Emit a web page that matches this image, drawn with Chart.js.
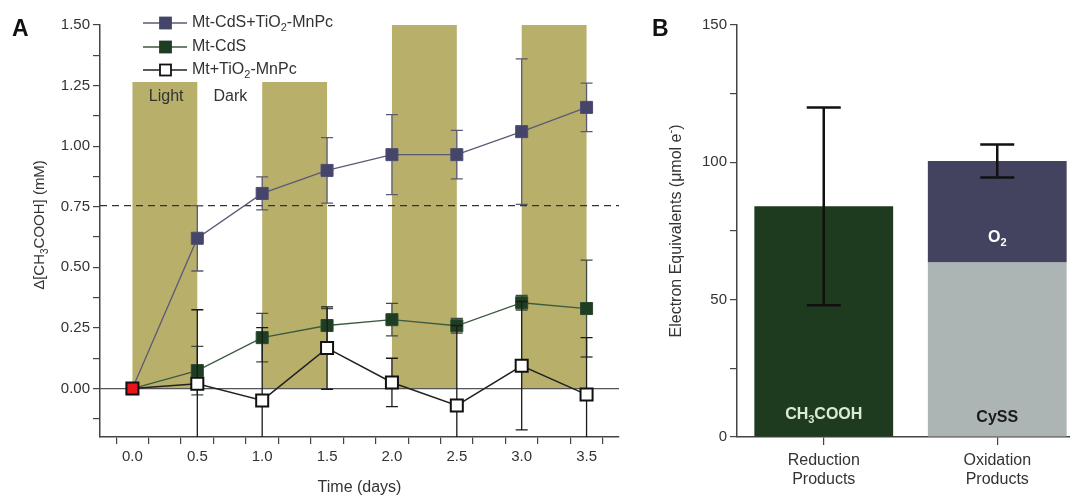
<!DOCTYPE html>
<html>
<head>
<meta charset="utf-8">
<script src="https://cdn.jsdelivr.net/npm/chart.js@4.4.0/dist/chart.umd.min.js"></script>
<style>
  html, body { margin: 0; padding: 0; background: #fff; overflow: hidden; width: 1070px; height: 497px; }
  #wrapA { position: absolute; left: 0; top: 0; width: 640px; height: 497px; }
  #wrapB { position: absolute; left: 640px; top: 0; width: 444px; height: 497px; }
  .panel { position: absolute; font: bold 23px "Liberation Sans", Arial, sans-serif; line-height: 1; color: #111; }
</style>
</head>
<body>
<div id="wrapA"><canvas id="chartA"></canvas></div>
<div id="wrapB"><canvas id="chartB"></canvas></div>
<div class="panel" style="left:12px; top:17px;">A</div>
<div class="panel" style="left:652px; top:17px;">B</div>
<script>
// ---- panel A data (time course) ----
const timeDays = [0, 0.5, 1.0, 1.5, 2.0, 2.5, 3.0, 3.5];
const cdsTio2 = [0, 0.62, 0.805, 0.90, 0.965, 0.965, 1.06, 1.16];
const cdsTio2Err = [0, 0.135, 0.068, 0.135, 0.165, 0.10, 0.30, 0.10];
const cdsOnly = [0, 0.074, 0.21, 0.26, 0.284, 0.259, 0.354, 0.33];
const cdsOnlyErr = [0, 0.10, 0.10, 0.07, 0.067, 0.03, 0.03, 0.20];
const tio2Only = [0, 0.02, -0.049, 0.167, 0.025, -0.07, 0.094, -0.025];
const tio2OnlyErr = [0, 0.305, 0.30, 0.17, 0.10, 0.33, 0.265, 0.235];

const lightCenters = [0.25, 1.25, 2.25, 3.25];
const lightTops = [1.265, 1.265, 1.5, 1.5];
const dashLevel = 0.755;
const zeroLevel = 0;

const xTicksA = [-0.25, 0, 0.25, 0.5, 0.75, 1, 1.25, 1.5, 1.75, 2, 2.25, 2.5, 2.75, 3, 3.25, 3.5, 3.75];
const yTicksA = [-0.125, 0, 0.125, 0.25, 0.375, 0.5, 0.625, 0.75, 0.875, 1, 1.125, 1.25, 1.375, 1.5];

// ---- panel B data (electron balance) ----
const categoriesB = [["Reduction", "Products"], ["Oxidation", "Products"]];
const acetateEq = [84, null];
const cyssEq = [null, 63.5];
const o2Eq = [null, 37];
const totalErrB = [36, 6];
const yTicksB = [0, 25, 50, 75, 100, 125, 150];

const FONT = '"Liberation Sans", Arial, sans-serif';
const TXT = '#333';

// draw text with sub/superscripts: parts = [[text, 'n'|'sub'|'sup'], ...]
function drawRich(ctx, parts, x, y, size, opts = {}) {
  const w = opts.bold ? 'bold ' : '';
  const fontFor = k => w + (k === 'n' ? size : Math.round(size * 0.68)) + 'px ' + FONT;
  let total = 0;
  parts.forEach(([t, k]) => { ctx.font = fontFor(k); total += ctx.measureText(t).width; });
  ctx.save();
  ctx.translate(x, y);
  if (opts.rotate) ctx.rotate(opts.rotate);
  let cx = opts.align === 'left' ? 0 : -total / 2;
  ctx.fillStyle = opts.color || TXT;
  ctx.textBaseline = 'middle';
  ctx.textAlign = 'left';
  parts.forEach(([t, k]) => {
    ctx.font = fontFor(k);
    const dy = k === 'sub' ? size * 0.34 : k === 'sup' ? -size * 0.36 : 0;
    ctx.fillText(t, cx, dy);
    cx += ctx.measureText(t).width;
  });
  ctx.restore();
}

const pts = ys => timeDays.map((t, i) => ({ x: t, y: ys[i] }));

// error bars drawn right before each series so markers sit on top
const errorBarsA = {
  id: 'errorBarsA',
  beforeDatasetDraw(chart, args) {
    const ds = chart.data.datasets[args.index];
    if (!ds.errors) return;
    const { ctx, chartArea: a } = chart;
    const xs = chart.scales.x, ys = chart.scales.y;
    ctx.save();
    ctx.beginPath();
    ctx.rect(a.left, a.top - 2, a.right - a.left, a.bottom - a.top + 2);
    ctx.clip();
    ctx.strokeStyle = ds.errorColor;
    ctx.lineWidth = 1.3;
    ds.data.forEach((p, i) => {
      const e = ds.errors[i];
      if (!e) return;
      const px = xs.getPixelForValue(p.x);
      const top = ys.getPixelForValue(p.y + e);
      const bot = ys.getPixelForValue(p.y - e);
      ctx.beginPath();
      ctx.moveTo(px, top); ctx.lineTo(px, bot);
      ctx.moveTo(px - 6, top); ctx.lineTo(px + 6, top);
      ctx.moveTo(px - 6, bot); ctx.lineTo(px + 6, bot);
      ctx.stroke();
    });
    ctx.restore();
  }
};

// legend, light/dark labels, axis titles
const decorA = {
  id: 'decorA',
  afterDraw(chart) {
    const { ctx, chartArea: a } = chart;
    const xs = chart.scales.x, ys = chart.scales.y;
    const items = [
      { parts: [['Mt-CdS+TiO', 'n'], ['2', 'sub'], ['-MnPc', 'n']], line: '#5a5a78', fill: '#45456b', stroke: '#45456b', y: 23 },
      { parts: [['Mt-CdS', 'n']], line: '#3c5a40', fill: '#1e3d22', stroke: '#1e3d22', y: 47 },
      { parts: [['Mt+TiO', 'n'], ['2', 'sub'], ['-MnPc', 'n']], line: '#222', fill: '#fff', stroke: '#111', y: 70 }
    ];
    items.forEach(it => {
      ctx.save();
      ctx.strokeStyle = it.line;
      ctx.lineWidth = 1.3;
      ctx.beginPath(); ctx.moveTo(143, it.y); ctx.lineTo(187, it.y); ctx.stroke();
      ctx.fillStyle = it.fill;
      ctx.fillRect(160, it.y - 5.5, 11, 11);
      ctx.strokeStyle = it.stroke;
      ctx.lineWidth = 1.8;
      ctx.strokeRect(160, it.y - 5.5, 11, 11);
      ctx.restore();
      drawRich(ctx, it.parts, 192, it.y, 16, { align: 'left' });
    });
    drawRich(ctx, [['Light', 'n']], xs.getPixelForValue(0.26), ys.getPixelForValue(1.205), 16);
    drawRich(ctx, [['Dark', 'n']], xs.getPixelForValue(0.755), ys.getPixelForValue(1.205), 16);
    drawRich(ctx, [['\u0394[CH', 'n'], ['3', 'sub'], ['COOH] (mM)', 'n']], 40, (a.top + a.bottom) / 2 - 6, 15, { rotate: -Math.PI / 2 });
    drawRich(ctx, [['Time (days)', 'n']], (a.left + a.right) / 2, 488, 16);
  }
};

new Chart(document.getElementById('chartA'), {
  type: 'line',
  data: {
    datasets: [
      {
        label: 'Mt+TiO2-MnPc', data: pts(tio2Only), errors: tio2OnlyErr, errorColor: '#1a1a1a',
        borderColor: '#222', borderWidth: 1.5, pointStyle: 'rect', pointRadius: 8.5,
        pointBackgroundColor: timeDays.map((t, i) => i === 0 ? '#e8141b' : '#fff'),
        pointBorderColor: '#111', pointBorderWidth: 2, order: 1
      },
      {
        label: 'Mt-CdS', data: pts(cdsOnly), errors: cdsOnlyErr, errorColor: '#3d4d3f',
        borderColor: '#3c5a40', borderWidth: 1.3, pointStyle: 'rect', pointRadius: 8.5,
        pointBackgroundColor: '#1e3d22', pointBorderColor: '#2a4a2e', pointBorderWidth: 1, order: 2
      },
      {
        label: 'Mt-CdS+TiO2-MnPc', data: pts(cdsTio2), errors: cdsTio2Err, errorColor: '#5a5a70',
        borderColor: '#5a5a78', borderWidth: 1.3, pointStyle: 'rect', pointRadius: 8.5,
        pointBackgroundColor: '#45456b', pointBorderColor: '#4d4d72', pointBorderWidth: 1, order: 3
      },
      {
        label: 'threshold', data: [{ x: xTicksA[0], y: dashLevel }, { x: xTicksA[xTicksA.length - 1], y: dashLevel }],
        borderColor: '#333', borderWidth: 1.2, borderDash: [7, 5], pointRadius: 0, order: 4
      },
      {
        label: 'zero', data: [{ x: xTicksA[0], y: zeroLevel }, { x: xTicksA[xTicksA.length - 1], y: zeroLevel }],
        borderColor: '#555', borderWidth: 1.2, pointRadius: 0, order: 5
      },
      {
        // bar width is measured against the 0.25 tick spacing, so 2.0 gives a half-day wide band
        type: 'bar', label: 'light', data: lightCenters.map((c, i) => ({ x: c, y: lightTops[i] })),
        backgroundColor: '#b8af6b', borderWidth: 0, barPercentage: 2.0, categoryPercentage: 1, order: 10
      }
    ]
  },
  options: {
    responsive: true, maintainAspectRatio: false, animation: false,
    layout: { padding: { top: 25, right: 21, left: 0, bottom: 0 } },
    plugins: { legend: { display: false }, tooltip: { enabled: false } },
    scales: {
      x: {
        type: 'linear', min: -0.25, max: 3.75, offset: false,
        afterBuildTicks: s => { s.ticks = xTicksA.map(v => ({ value: v })); },
        afterFit: s => { s.height = 60; },
        ticks: {
          autoSkip: false, maxRotation: 0, padding: 4, color: TXT, font: { family: FONT, size: 15 },
          callback: v => (v >= 0 && v <= 3.5 && Math.abs(v * 2 - Math.round(v * 2)) < 1e-6) ? v.toFixed(1) : ''
        },
        grid: { drawOnChartArea: false, tickLength: 7, color: '#444', lineWidth: 1.2 },
        border: { color: '#444', width: 1.5 }
      },
      y: {
        type: 'linear', min: -0.2, max: 1.5,
        afterBuildTicks: s => { s.ticks = yTicksA.map(v => ({ value: v })); },
        afterFit: s => { s.width = 100; },
        ticks: {
          autoSkip: false, padding: 3, color: TXT, font: { family: FONT, size: 15 },
          callback: v => (v >= 0 && Math.abs(v * 4 - Math.round(v * 4)) < 1e-6) ? v.toFixed(2) : ''
        },
        grid: { drawOnChartArea: false, tickLength: 7, color: '#444', lineWidth: 1.2 },
        border: { color: '#444', width: 1.5 }
      }
    }
  },
  plugins: [errorBarsA, decorA]
});

// ---- panel B ----
const decorB = {
  id: 'decorB',
  afterDatasetsDraw(chart) {
    const { ctx } = chart;
    const xs = chart.scales.x, ys = chart.scales.y;
    // error bars on stack totals
    ctx.save();
    ctx.strokeStyle = '#111';
    ctx.lineWidth = 2.5;
    categoriesB.forEach((c, i) => {
      const total = (acetateEq[i] || 0) + (cyssEq[i] || 0) + (o2Eq[i] || 0);
      const px = xs.getPixelForValue(i);
      const top = ys.getPixelForValue(total + totalErrB[i]);
      const bot = ys.getPixelForValue(total - totalErrB[i]);
      ctx.beginPath();
      ctx.moveTo(px, top); ctx.lineTo(px, bot);
      ctx.moveTo(px - 17, top); ctx.lineTo(px + 17, top);
      ctx.moveTo(px - 17, bot); ctx.lineTo(px + 17, bot);
      ctx.stroke();
    });
    ctx.restore();
    // labels inside the bars
    drawRich(ctx, [['CH', 'n'], ['3', 'sub'], ['COOH', 'n']], xs.getPixelForValue(0), ys.getPixelForValue(8), 16, { bold: true, color: '#d9ecd2' });
    drawRich(ctx, [['CySS', 'n']], xs.getPixelForValue(1), ys.getPixelForValue(7), 16, { bold: true, color: '#1a1a1a' });
    drawRich(ctx, [['O', 'n'], ['2', 'sub']], xs.getPixelForValue(1), ys.getPixelForValue(cyssEq[1] + 9), 16, { bold: true, color: '#fff' });
  },
  afterDraw(chart) {
    const a = chart.chartArea;
    drawRich(chart.ctx, [['Electron Equivalents (\u03bcmol e', 'n'], ['-', 'sup'], [')', 'n']], 37, (a.top + a.bottom) / 2, 16, { rotate: -Math.PI / 2 });
  }
};

new Chart(document.getElementById('chartB'), {
  type: 'bar',
  data: {
    labels: categoriesB,
    datasets: [
      { label: 'CH3COOH', data: acetateEq, backgroundColor: '#1f3b1f' },
      { label: 'CySS', data: cyssEq, backgroundColor: '#adb4b4' },
      { label: 'O2', data: o2Eq, backgroundColor: '#43435f' }
    ]
  },
  options: {
    responsive: true, maintainAspectRatio: false, animation: false,
    layout: { padding: { top: 25, right: 0, left: 0, bottom: 0 } },
    plugins: { legend: { display: false }, tooltip: { enabled: false } },
    datasets: { bar: { barPercentage: 0.8, categoryPercentage: 1, borderWidth: 0 } },
    scales: {
      x: {
        stacked: true,
        afterFit: s => { s.height = 60; },
        ticks: { maxRotation: 0, padding: 6, color: TXT, font: { family: FONT, size: 16 } },
        grid: { offset: false, drawOnChartArea: false, tickLength: 8, color: '#444', lineWidth: 1.2 },
        border: { color: '#444', width: 1.5 }
      },
      y: {
        stacked: true, min: 0, max: 150,
        afterBuildTicks: s => { s.ticks = yTicksB.map(v => ({ value: v })); },
        afterFit: s => { s.width = 97; },
        ticks: {
          autoSkip: false, padding: 3, color: TXT, font: { family: FONT, size: 15 },
          callback: v => v % 50 === 0 ? v : ''
        },
        grid: { drawOnChartArea: false, tickLength: 7, color: '#444', lineWidth: 1.2 },
        border: { color: '#444', width: 1.5 }
      }
    }
  },
  plugins: [decorB]
});
</script>
</body>
</html>
